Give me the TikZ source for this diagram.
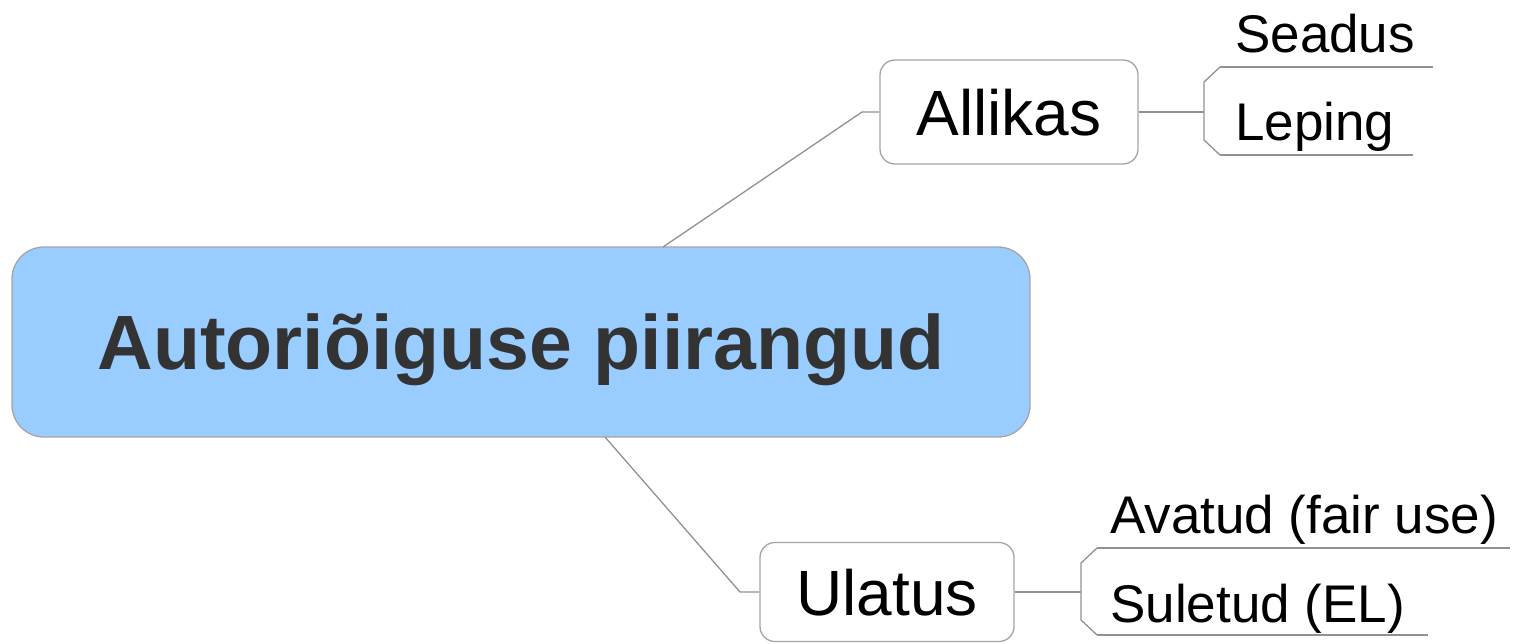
\documentclass[tikz,border=0pt]{standalone}
\usepackage{fontspec}
\setmainfont{Liberation Sans}
\definecolor{mainfill}{RGB}{153,204,255}
\definecolor{linegray}{RGB}{145,145,145}
\definecolor{boxgray}{RGB}{165,165,165}
\definecolor{maintext}{RGB}{51,51,51}
\begin{document}
\begin{tikzpicture}[x=1pt,y=-1pt,
  mainbox/.style={draw=boxgray, fill=mainfill, rounded corners=32pt,
    minimum width=1018pt, minimum height=190pt, inner sep=0pt,
    font=\fontsize{77}{82}\selectfont\bfseries, text=maintext,
    text height=55pt, text depth=0pt, line width=1.3pt},
  topicbox/.style={draw=boxgray, fill=white, rounded corners=15pt,
    inner sep=0pt, font=\fontsize{64}{70}\selectfont,
    text height=46pt, text depth=0pt, line width=1.3pt},
  leaf/.style={anchor=base west, inner sep=0pt, font=\fontsize{53}{60}\selectfont},
  conn/.style={draw=linegray, line width=1.3pt},
  uline/.style={draw=linegray, line width=1.5pt}]
\useasboundingbox (0,0) rectangle (1520,643);

% nodes
\node[mainbox] (main) at (521,342) {Autoriõiguse piirangud};
\node[topicbox, minimum width=258pt, minimum height=104pt] (allikas) at (1009,112) {Allikas};
\node[topicbox, minimum width=254pt, minimum height=99pt] (ulatus) at (887,592) {Ulatus};

\node[leaf] (seadus) at (1235,52) {Seadus};
\node[leaf] (leping) at (1235,140) {Leping};
\node[leaf] (avatud) at (1110,533) {Avatud (fair use)};
\node[leaf] (suletud) at (1110,622) {Suletud (EL)};

% helper coordinates
\coordinate (m1) at (663,247);
\coordinate (k1) at (862,112);
\coordinate (m2) at (605,437);
\coordinate (k2) at (740,592);

\coordinate (ab) at (1204,112);
\coordinate (s0) at (1220,67);
\coordinate (s1) at (1433,67);
\coordinate (l0) at (1220,155);
\coordinate (l1) at (1413,155);

\coordinate (ub) at (1081,592);
\coordinate (a0) at (1097,548);
\coordinate (a1) at (1510,548);
\coordinate (u0) at (1097,635);
\coordinate (u1) at (1428,635);

% connectors main -> topics
\draw[conn] (m1) -- (k1) -- (allikas.west);
\draw[conn] (m2) -- (k2) -- (ulatus.west);

% Allikas -> leaves
\draw[conn] (allikas.east) -- (ab);
\draw[conn] (s0) -- (1204,82) -- (1204,140) -- (l0);
\draw[uline] (s0) -- (s1);
\draw[uline] (l0) -- (l1);

% Ulatus -> leaves
\draw[conn] (ulatus.east) -- (ub);
\draw[conn] (a0) -- (1081,563) -- (1081,620) -- (u0);
\draw[uline] (a0) -- (a1);
\draw[uline] (u0) -- (u1);
\end{tikzpicture}
\end{document}
